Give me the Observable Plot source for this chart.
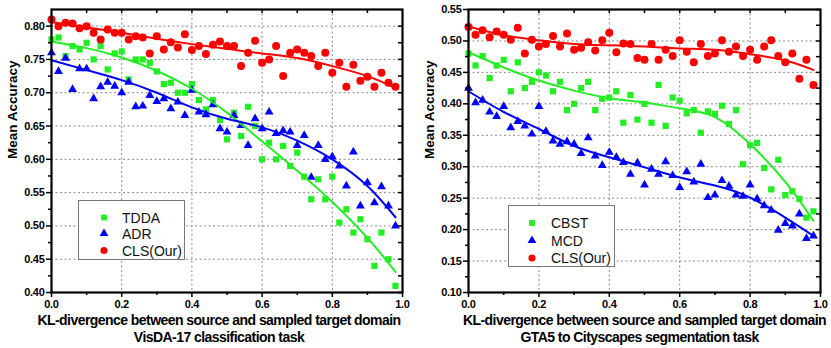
<!DOCTYPE html>
<html><head><meta charset="utf-8">
<script src="https://cdn.jsdelivr.net/npm/d3@7"></script>
<script src="https://cdn.jsdelivr.net/npm/@observablehq/plot@0.6"></script>
<style>
body{margin:0;background:#fff;}
#wrap{position:relative;width:831px;height:348px;display:flex;font-family:"Liberation Sans",Arial,sans-serif;}
#wrap svg.plot{display:block;}
#legend{position:absolute;left:0;top:0;pointer-events:none;}
</style></head><body><div id="wrap"></div>
<script>
// KL-divergence sample positions
const kl = [0,0.02,0.04,0.06,0.08,0.10,0.12,0.14,0.16,0.18,0.20,0.22,0.24,0.26,0.28,0.30,0.32,0.34,0.36,0.38,
  0.40,0.42,0.44,0.46,0.48,0.50,0.52,0.54,0.56,0.58,0.60,0.62,0.64,0.66,0.68,0.70,0.72,0.74,0.76,0.78,
  0.80,0.82,0.84,0.86,0.88,0.90,0.92,0.94,0.96,0.98];

// VisDA-17 (left)
const tdda = [0.780,0.783,0.755,0.770,0.765,0.775,0.750,0.770,0.735,0.759,0.762,0.720,0.750,0.750,0.745,0.732,0.713,0.715,0.700,0.700,
  0.713,0.689,0.675,0.689,0.659,0.630,0.670,0.635,0.679,0.650,0.600,0.625,0.600,0.620,0.590,0.610,0.574,0.540,0.570,0.540,
  0.574,0.505,0.525,0.490,0.510,0.480,0.440,0.490,0.450,0.410];
const adr = [0.760,0.732,0.752,0.705,0.736,0.736,0.691,0.709,0.716,0.710,0.700,0.716,0.679,0.680,0.696,0.687,0.691,0.676,0.686,0.666,
  0.704,0.671,0.667,0.682,0.646,0.641,0.666,0.651,0.621,0.661,0.646,0.671,0.639,0.643,0.641,0.621,0.636,0.573,0.621,0.600,
  0.604,0.590,0.560,0.611,0.530,0.565,0.535,0.559,0.530,0.500];
const clsLeft = [0.810,0.800,0.805,0.804,0.797,0.800,0.790,0.780,0.795,0.790,0.790,0.780,0.785,0.783,0.759,0.785,0.765,0.776,0.768,0.788,
  0.764,0.770,0.758,0.772,0.777,0.770,0.770,0.740,0.760,0.778,0.745,0.750,0.770,0.725,0.760,0.765,0.760,0.755,0.740,0.760,
  0.730,0.745,0.709,0.742,0.718,0.724,0.709,0.730,0.715,0.709];

// GTA5 -> Cityscapes (right)
const cbst = [0.480,0.461,0.476,0.441,0.461,0.470,0.420,0.466,0.425,0.435,0.450,0.445,0.420,0.435,0.390,0.400,0.425,0.435,0.390,0.408,
  0.410,0.420,0.370,0.414,0.375,0.400,0.370,0.430,0.365,0.410,0.405,0.385,0.390,0.354,0.388,0.384,0.397,0.368,0.390,0.304,
  0.334,0.338,0.298,0.264,0.311,0.255,0.261,0.249,0.219,0.229];
const mcd = [0.425,0.402,0.406,0.387,0.380,0.396,0.362,0.372,0.365,0.352,0.396,0.356,0.341,0.336,0.340,0.336,0.321,0.346,0.317,0.302,
  0.323,0.315,0.307,0.288,0.306,0.271,0.296,0.288,0.308,0.286,0.267,0.292,0.276,0.304,0.251,0.255,0.278,0.269,0.255,0.253,
  0.271,0.249,0.238,0.231,0.199,0.210,0.206,0.225,0.186,0.190];
const clsRight = [0.522,0.510,0.517,0.506,0.515,0.510,0.502,0.521,0.480,0.502,0.491,0.495,0.508,0.491,0.512,0.486,0.489,0.498,0.485,0.501,
  0.513,0.482,0.496,0.495,0.473,0.470,0.495,0.470,0.486,0.476,0.501,0.483,0.466,0.495,0.476,0.480,0.501,0.483,0.491,0.476,
  0.486,0.470,0.491,0.501,0.476,0.466,0.480,0.440,0.470,0.430];

// fitted trend curves
const fitX = [0,0.1,0.2,0.3,0.4,0.5,0.6,0.7,0.8,0.9,0.98];
const fitTDDA = [0.777,0.767,0.753,0.733,0.706,0.670,0.627,0.583,0.536,0.482,0.431];
const fitADR = [0.749,0.734,0.719,0.700,0.678,0.661,0.648,0.628,0.600,0.560,0.513];
const fitCLSLeft = [0.806,0.798,0.790,0.781,0.773,0.766,0.759,0.752,0.740,0.725,0.707];
const fitCBST = [0.482,0.458,0.437,0.421,0.409,0.402,0.393,0.379,0.336,0.276,0.214];
const fitMCD = [0.420,0.387,0.360,0.333,0.315,0.299,0.283,0.270,0.251,0.219,0.190];
const fitCLSRight = [0.523,0.509,0.501,0.495,0.493,0.491,0.488,0.486,0.479,0.469,0.454];

// ticks
const xMajor = [0,0.2,0.4,0.6,0.8,1.0];
const xMinor = [0.1,0.3,0.5,0.7,0.9];
const xGrid = [0.2,0.4,0.6,0.8];
const xTop = [0.1,0.2,0.3,0.4,0.5,0.6,0.7,0.8,0.9];
const yMajorLeft = [0.40,0.45,0.50,0.55,0.60,0.65,0.70,0.75,0.80];
const yMinorLeft = [0.425,0.475,0.525,0.575,0.625,0.675,0.725,0.775];
const yMajorRight = [0.10,0.15,0.20,0.25,0.30,0.35,0.40,0.45,0.50,0.55];
const yMinorRight = [0.125,0.175,0.225,0.275,0.325,0.375,0.425,0.475,0.525];

const GREEN = "#22ee22", BLUE = "#0000ff", RED = "#ff0000";
const FONT = "Liberation Sans, Arial, sans-serif";

function panel(o) {
  const marks = [
    Plot.gridX(xGrid, {stroke: "#8a8a8a", strokeOpacity: 1, strokeDasharray: "2,2.5"}),
    Plot.gridY(o.yMajor.filter(v => v > o.yDomain[0] + 1e-9 && v < o.yDomain[1] - 1e-9), {stroke: "#8a8a8a", strokeOpacity: 1, strokeDasharray: "2,2.5"}),
  ];
  o.series.forEach(s => {
    marks.push(Plot.dot(s.values, {x: (d, i) => kl[i], y: d => d, symbol: s.symbol, fill: s.color, r: s.r, stroke: null}));
  });
  o.series.forEach(s => {
    marks.push(Plot.line(s.fit, {x: (d, i) => fitX[i], y: d => d, stroke: s.color, strokeWidth: 2, curve: "natural"}));
  });
  marks.push(
    Plot.axisX(xMajor, {tickSize: 5, tickPadding: 3, tickFormat: d3.format(".1f"), label: null, fontSize: 11, fontWeight: "bold", strokeWidth: 1.5}),
    Plot.axisX(xMinor, {tickSize: 3, tickFormat: () => "", label: null, strokeWidth: 1.5}),
    Plot.axisX(xTop, {anchor: "bottom", frameAnchor: "top", tickSize: 4, tickFormat: () => "", label: null, strokeWidth: 1.5}),
    Plot.axisY(o.yMajor, {tickSize: 5, tickPadding: 2, tickFormat: d3.format(".2f"), label: null, fontSize: 11, fontWeight: "bold", strokeWidth: 1.5}),
    Plot.axisY(o.yMinor, {tickSize: 3, tickFormat: () => "", label: null, strokeWidth: 1.5}),
    Plot.axisY(o.yMajor.concat(o.yMinor), {anchor: "left", frameAnchor: "right", tickSize: 4, tickFormat: () => "", label: null, strokeWidth: 1.5}),
    Plot.frame({stroke: "black", strokeWidth: 2.2}),
    Plot.text(["Mean Accuracy"], {frameAnchor: "left", dx: -39, dy: 8, rotate: -90, fontSize: 13.5, fontWeight: "bold", fill: "black"}),
    Plot.text([o.title1], {frameAnchor: "bottom", dx: o.tdx1, dy: 28, lineAnchor: "middle", fontSize: 14, fontWeight: "bold", fill: "black"}),
    Plot.text([o.title2], {frameAnchor: "bottom", dx: o.tdx2, dy: 45, lineAnchor: "middle", fontSize: 14, fontWeight: "bold", fill: "black"})
  );
  const svg = Plot.plot({
    width: o.width, height: 348,
    marginLeft: o.ml, marginRight: o.mr, marginTop: 9, marginBottom: 56,
    x: {domain: [0, 1]},
    y: {domain: o.yDomain},
    style: {fontFamily: FONT, fontSize: "11px", color: "black", background: "white", overflow: "visible"},
    marks
  });
  d3.select(svg).selectAll("text").filter(function() { return this.textContent === o.title1 || this.textContent === o.title2; })
    .attr("letter-spacing", "-0.55px");
  d3.select(svg).selectAll("text").filter(function() { return /^\d\.\d+$/.test(this.textContent); })
    .attr("letter-spacing", "-0.3px");
  return svg;
}

const wrap = document.getElementById("wrap");
wrap.appendChild(panel({
  width: 415, ml: 51, mr: 13, yDomain: [0.40, 0.825],
  yMajor: yMajorLeft, yMinor: yMinorLeft,
  title1: "KL-divergence between source and sampled target domain", tdx1: -8,
  title2: "VisDA-17 classification task", tdx2: -8,
  series: [
    {name: "TDDA", values: tdda, fit: fitTDDA, color: GREEN, symbol: "square", r: 3.5},
    {name: "ADR", values: adr, fit: fitADR, color: BLUE, symbol: "triangle", r: 3.3},
    {name: "CLS(Our)", values: clsLeft, fit: fitCLSLeft, color: RED, symbol: "circle", r: 4}
  ]
}));
wrap.appendChild(panel({
  width: 416, ml: 53, mr: 11, yDomain: [0.10, 0.55],
  yMajor: yMajorRight, yMinor: yMinorRight,
  title1: "KL-divergence between source and sampled target domain", tdx1: 0,
  title2: "GTA5 to Cityscapes segmentation task", tdx2: -5,
  series: [
    {name: "CBST", values: cbst, fit: fitCBST, color: GREEN, symbol: "square", r: 3.5},
    {name: "MCD", values: mcd, fit: fitMCD, color: BLUE, symbol: "triangle", r: 3.3},
    {name: "CLS(Our)", values: clsRight, fit: fitCLSRight, color: RED, symbol: "circle", r: 4}
  ]
}));

// legends (overlay)
const legendNames = [["TDDA", "ADR", "CLS(Our)"], ["CBST", "MCD", "CLS(Our)"]];
const legendColors = [GREEN, BLUE, RED];
const legendSymbols = [d3.symbolSquare, d3.symbolTriangle, d3.symbolCircle];
const legendBoxes = [{x: 78, y: 200, w: 106, h: 59, mx: 104, tx: 122, ys: [217.5, 233.5, 250.5]},
                     {x: 508, y: 205, w: 106, h: 61, mx: 532, tx: 551, ys: [223, 240.5, 258]}];
const lg = d3.select(wrap).append("svg").attr("id", "legend").attr("width", 831).attr("height", 348);
legendBoxes.forEach((b, k) => {
  lg.append("rect").attr("x", b.x + 0.5).attr("y", b.y + 0.5).attr("width", b.w).attr("height", b.h)
    .attr("fill", "white").attr("stroke", "#777").attr("stroke-width", 1);
  legendNames[k].forEach((name, i) => {
    lg.append("path").attr("transform", `translate(${b.mx},${b.ys[i]})`)
      .attr("d", d3.symbol(legendSymbols[i], i === 2 ? 40 : 34)()).attr("fill", legendColors[i]);
    lg.append("text").attr("x", b.tx).attr("y", b.ys[i]).attr("dy", "0.36em")
      .attr("font-family", FONT).attr("font-size", 14).attr("fill", "#111").text(name);
  });
});
</script></body></html>
